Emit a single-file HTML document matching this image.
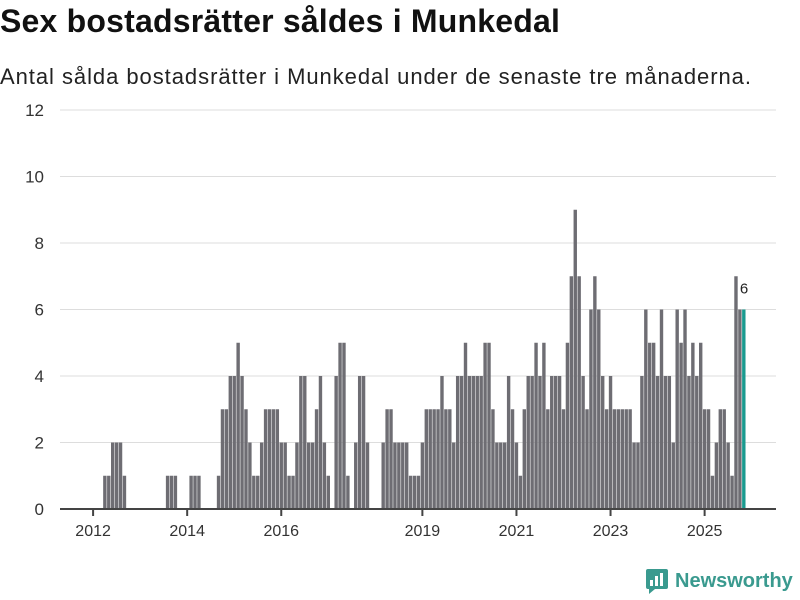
<!DOCTYPE html>
<html><head><meta charset="utf-8"><style>
body{margin:0;width:800px;height:600px;background:#fff;font-family:"Liberation Sans",sans-serif;overflow:hidden;position:relative}
#title{position:absolute;left:0;top:3px;font-size:32px;font-weight:bold;color:#111;letter-spacing:0.2px}
#sub{position:absolute;left:0;top:64px;font-size:22px;color:#222;letter-spacing:0.95px}
#logo{position:absolute;left:645px;top:568px;display:flex;align-items:center;gap:6px;color:#3a9a8f;font-weight:bold;font-size:20px}
</style></head><body>
<div id="title">Sex bostadsrätter såldes i Munkedal</div>
<div id="sub">Antal sålda bostadsrätter i Munkedal under de senaste tre månaderna.</div>
<svg id="chart" width="800" height="600" style="position:absolute;left:0;top:0"></svg>
<div id="logo"><svg width="24" height="26"><rect x="1" y="1" width="22" height="20" rx="2" fill="#3a9a8f"/><polygon points="4,21 4,26 10,21" fill="#3a9a8f"/><rect x="5" y="12" width="3" height="6" fill="#fff"/><rect x="10" y="8" width="3" height="10" fill="#fff"/><rect x="15" y="5" width="3" height="13" fill="#fff"/></svg><span>Newsworthy</span></div>
<script>
const values=[0,0,0,1,1,2,2,2,1,0,0,0,0,0,0,0,0,0,0,1,1,1,0,0,0,1,1,1,0,0,0,0,
1,3,3,4,4,5,4,3,2,1,1,2,3,3,3,3,2,2,1,
1,2,4,4,2,2,3,4,2,1,0,4,5,5,1,0,2,4,4,2,0,0,0,2,3,3,2,2,2,2,1,1,1,2,3,3,3,3,
4,3,3,2,4,4,5,4,4,4,4,5,5,3,2,2,2,4,3,2,
1,3,4,4,5,4,5,3,4,4,4,3,5,7,9,7,4,3,6,7,6,4,3,4,3,3,3,3,3,2,2,4,6,5,5,4,6,4,4,2,6,5,6,4,5,4,5,3,3,1,2,3,3,2,1,7,6,6];
const yTicks=[0,2,4,6,8,10,12];
const xTickYears=[2012,2014,2016,2019,2021,2023,2025];
const startYear=2012;
const svg=document.getElementById('chart');const NS='http://www.w3.org/2000/svg';
const x0=60,x1=776,y0=509,yTop=110;
const y=v=>y0-(v/12)*(y0-yTop);
const step=3.92;const xc=i=>93.1+i*step;
function mk(t,a){const e=document.createElementNS(NS,t);for(const k in a)e.setAttribute(k,a[k]);svg.appendChild(e);return e;}
yTicks.forEach(t=>{
 if(t>0){const g=mk('line',{x1:x0,x2:x1,y1:y(t),y2:y(t),stroke:'#ddd','stroke-width':1});
 
 }
 const l=mk('text',{x:44,y:y(t)+6,'text-anchor':'end','font-size':17,fill:'#333','font-family':'Liberation Sans, sans-serif'});l.textContent=t;
 
 
});
values.forEach((v,i)=>{
 if(v<=0)return;
 const last=i===values.length-1;
 const r=mk('rect',{x:xc(i)-1.7,y:y(v),width:3.4,height:y0-y(v),fill:last?'#1a9a8f':'#6e6d73'});
 
 
});
const li=values.length-1;
const lab=mk('text',{x:xc(li)-4,y:y(values[li])-16,'font-size':15,fill:'#222','font-family':'Liberation Sans, sans-serif'});lab.textContent=values[li];


const ax=mk('line',{x1:x0,x2:x1,y1:y0,y2:y0,stroke:'#444','stroke-width':2});


xTickYears.forEach(yr=>{
 const x=xc((yr-startYear)*12);
 const t=mk('line',{x1:x,x2:x,y1:y0,y2:y0+7,stroke:'#444','stroke-width':2});
 
 
 const l=mk('text',{x:x,y:536,'text-anchor':'middle','font-size':16,fill:'#333','font-family':'Liberation Sans, sans-serif'});l.textContent=yr;
 
 
});
</script>
</body></html>
